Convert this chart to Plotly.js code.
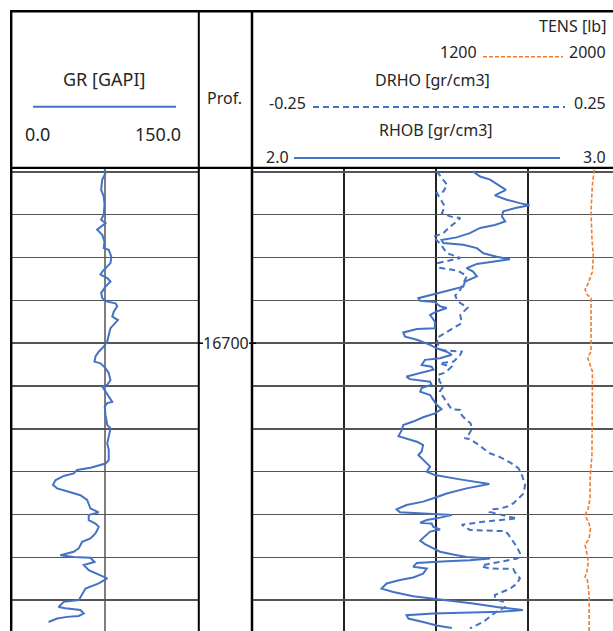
<!DOCTYPE html>
<html>
<head>
<meta charset="utf-8">
<script src="https://cdn.plot.ly/plotly-3.0.1.min.js"></script>
<style>html,body{margin:0;padding:0;background:#fff;overflow:hidden}#chart{width:613px;height:631px}</style>
</head>
<body>
<div id="chart"></div>
<script>
// ---- Data ----
const depthGR = [16659.1,16660.3,16661.8,16664.2,16665.7,16667.7,16670.0,16671.2,16672.0,16673.5,
16674.7,16676.3,16677.8,16678.2,16679.8,16681.3,16683.3,16684.0,16684.8,16685.6,
16686.8,16688.3,16689.5,16690.3,16690.7,16691.4,16692.6,16693.8,16694.6,16695.3,
16696.5,16698.1,16699.6,16700.8,16702.0,16703.1,16704.3,16704.7,16705.8,16707.0,
16708.6,16709.7,16710.1,16711.3,16712.9,16713.7,16714.0,16714.8,16716.8,16719.1,
16719.9,16722.2,16723.4,16724.9,16727.3,16728.1,16729.1,16729.6,16730.4,16731.0,
16732.0,16733.1,16733.9,16734.7,16735.5,16736.6,16738.6,16739.5,16740.1,16741.3,
16742.1,16742.9,16744.4,16745.6,16746.4,16747.9,16748.7,16749.5,16749.9,16750.1,
16751.1,16751.8,16753.0,16754.9,16756.1,16757.3,16758.8,16760.0,16760.4,16761.6,
16761.9,16762.3,16763.1,16763.7,16763.9,16764.3,16765.1];
const gr = [74.6,75.4,72.8,71.9,74.0,74.6,74.0,71.9,75.4,68.7,
72.8,74.6,74.0,78.0,80.0,79.4,72.8,71.4,76.8,79.4,
75.4,71.9,72.8,76.8,83.4,84.8,82.1,80.8,85.3,83.4,
79.4,78.0,76.8,74.0,70.0,67.4,66.6,71.4,75.4,78.0,
79.4,76.8,72.8,75.4,79.4,80.8,76.8,74.8,75.4,76.8,
79.4,78.0,76.8,78.0,78.0,75.4,63.4,52.7,50.0,42.0,
35.3,33.4,36.7,46.0,55.3,60.7,63.4,70.0,62.0,62.0,
67.4,70.0,67.4,63.4,56.7,54.0,50.0,39.3,50.0,63.4,
66.6,58.0,62.0,76.8,70.0,59.4,56.7,54.0,42.0,37.9,
43.3,55.3,58.0,54.0,44.7,36.7,29.9];

const depthRHOB = [16659.9,16661.1,16661.8,16663.0,16664.2,16665.5,16666.5,16667.3,16667.8,16668.4,
16669.2,16670.4,16671.6,16672.4,16673.1,16674.3,16675.3,16675.9,16676.6,16677.0,
16677.8,16679.0,16679.8,16680.4,16680.9,16681.5,16682.5,16683.3,16684.4,16685.6,
16686.8,16687.8,16688.5,16689.5,16690.1,16690.4,16691.4,16691.8,16692.6,16693.4,
16695.0,16696.5,16696.7,16697.5,16698.5,16699.2,16700.4,16701.2,16702.0,16702.7,
16703.5,16703.9,16705.1,16705.5,16706.2,16707.0,16707.8,16708.4,16709.0,16709.7,
16710.5,16711.3,16712.1,16713.3,16714.4,16715.4,16716.4,16717.3,16718.3,16719.1,
16720.3,16721.7,16722.2,16723.0,16723.8,16725.3,16726.1,16727.3,16728.8,16730.0,
16730.8,16731.8,16732.9,16733.9,16735.1,16736.2,16737.0,16737.8,16738.8,16739.5,
16739.7,16740.1,16740.9,16741.3,16741.9,16742.1,16742.9,16743.5,16744.0,16745.2,
16746.1,16746.9,16747.9,16748.7,16749.3,16749.9,16750.3,16750.7,16750.9,16751.1,
16751.3,16752.2,16752.6,16753.8,16754.7,16755.3,16756.1,16757.3,16758.1,16759.1,
16759.6,16760.2,16760.8,16761.6,16762.3,16762.7,16763.0,16763.1,16763.5,16764.3,
16765.1,16765.9,16766.5];
const rhob = [2.600,2.620,2.647,2.669,2.690,2.660,2.692,2.728,2.754,2.719,
2.683,2.679,2.688,2.660,2.620,2.592,2.556,2.515,2.520,2.574,
2.611,2.629,2.665,2.701,2.656,2.611,2.583,2.601,2.611,2.579,
2.574,2.529,2.493,2.452,2.457,2.497,2.511,2.529,2.502,2.484,
2.497,2.497,2.448,2.411,2.416,2.448,2.484,2.502,2.529,2.543,
2.511,2.470,2.461,2.488,2.493,2.457,2.420,2.429,2.484,2.488,
2.461,2.457,2.484,2.493,2.502,2.515,2.497,2.465,2.438,2.411,
2.407,2.398,2.416,2.448,2.465,2.461,2.452,2.465,2.484,2.475,
2.497,2.565,2.645,2.583,2.529,2.493,2.465,2.420,2.393,2.402,
2.457,2.543,2.502,2.475,2.457,2.488,2.493,2.511,2.484,2.470,
2.457,2.470,2.493,2.511,2.543,2.583,2.647,2.592,2.529,2.484,
2.448,2.438,2.475,2.465,2.438,2.402,2.366,2.352,2.384,2.438,
2.488,2.538,2.601,2.665,2.736,2.674,2.574,2.493,2.420,2.425,
2.465,2.502,2.543];

const depthDRHO = [16659.9,16661.4,16663.0,16664.6,16664.9,16666.9,16668.1,16669.6,16670.4,16670.8,
16671.6,16673.1,16674.3,16675.2,16676.3,16677.8,16679.0,16680.1,16681.3,16682.4,
16683.1,16684.3,16685.9,16687.5,16688.9,16690.3,16691.7,16693.4,16695.3,16696.5,
16697.3,16698.8,16700.4,16701.6,16702.0,16702.7,16704.3,16704.7,16705.5,16706.2,
16707.0,16707.4,16709.0,16710.1,16711.3,16712.5,16714.0,16715.4,16715.6,16716.8,
16718.1,16718.7,16719.9,16721.2,16722.2,16722.4,16723.4,16724.5,16725.7,16726.6,
16727.9,16729.2,16730.4,16732.0,16733.1,16735.1,16736.2,16737.4,16738.2,16738.6,
16738.8,16739.4,16740.4,16740.9,16741.7,16742.4,16743.6,16743.8,16743.9,16744.6,
16746.2,16747.6,16749.0,16749.9,16750.3,16751.1,16751.8,16752.1,16752.6,16752.7,
16753.4,16754.9,16756.1,16757.3,16758.1,16758.8,16759.6,16760.4,16761.6,16762.7,
16763.9,16765.1,16766.6];
const drho = [0.001,0.008,0.015,0.010,0.001,0.008,0.012,0.008,0.019,0.033,
0.028,0.017,0.010,-0.004,0.003,0.010,0.015,0.033,0.003,0.005,
0.030,0.042,0.038,0.033,0.026,0.030,0.043,0.033,0.035,0.024,
0.015,0.001,0.003,0.008,0.035,0.033,0.024,0.005,0.021,0.017,
0.010,0.003,0.005,0.010,0.005,0.010,0.015,0.021,0.033,0.035,
0.042,0.047,0.049,0.045,0.039,0.046,0.055,0.064,0.073,0.087,
0.101,0.112,0.116,0.119,0.121,0.119,0.112,0.105,0.096,0.087,
0.076,0.073,0.096,0.110,0.064,0.035,0.046,0.073,0.094,0.098,
0.105,0.110,0.114,0.114,0.110,0.087,0.064,0.062,0.073,0.105,
0.107,0.114,0.110,0.101,0.089,0.080,0.080,0.091,0.094,0.082,
0.073,0.064,0.046];

const depthTENS = [16659.5,16663.0,16669.2,16675.5,16679.8,16683.3,16686.0,16687.5,16688.7,16689.5,
16693.4,16702.0,16702.7,16703.5,16705.1,16706.6,16709.7,16717.5,16722.2,16726.1,
16731.6,16736.2,16738.6,16740.1,16741.7,16743.2,16745.6,16747.1,16749.1,16751.1,
16753.4,16754.6,16754.9,16756.5,16759.6,16767.4];
const tens = [1944,1940,1937,1939,1942,1940,1931,1924,1929,1937,
1937,1937,1933,1930,1935,1940,1940,1939,1940,1939,
1935,1935,1931,1924,1931,1936,1933,1924,1928,1931,
1928,1924,1928,1931,1933,1933];

const depthTickLabels = [16700];
const grScale = ["0.0", "150.0"];
const rhobScale = ["2.0", "3.0"];
const drhoScale = ["-0.25", "0.25"];
const tensScale = ["1200", "2000"];

// ---- Layout helpers (pixel -> paper) ----
const W = 613, H = 631;
const px = x => x / W;
const py = y => 1 - y / H;
const BLUE = '#4472C4', ORANGE = '#ED7D31', TXT = '#262626';
const FONT = 'Noto Sans, DejaVu Sans, sans-serif';

const traces = [
  {x: gr, y: depthGR, xaxis: 'x', yaxis: 'y', mode: 'lines', line: {color: BLUE, width: 2}, hoverinfo: 'skip'},
  {x: rhob, y: depthRHOB, xaxis: 'x2', yaxis: 'y', mode: 'lines', line: {color: BLUE, width: 2}, hoverinfo: 'skip'},
  {x: drho, y: depthDRHO, xaxis: 'x3', yaxis: 'y', mode: 'lines', line: {color: BLUE, width: 2, dash: '6px,4px'}, hoverinfo: 'skip'},
  {x: tens, y: depthTENS, xaxis: 'x4', yaxis: 'y', mode: 'lines', line: {color: ORANGE, width: 1.6, dash: '4px,2px'}, hoverinfo: 'skip'}
];

const yTop = 168;
const t2Left = 252, t1Left = 11.2, t1Right = 198.8;
const t2Frac = (W - t2Left) / 368;

const layout = {
  width: W, height: H,
  margin: {l: 0, r: 0, t: 0, b: 0},
  paper_bgcolor: '#fff', plot_bgcolor: '#fff',
  showlegend: false,
  xaxis: {domain: [px(t1Left), px(t1Right)], range: [0, 150], tickvals: [75], showticklabels: false, ticks: '',
          showgrid: true, gridcolor: '#7f7f7f', gridwidth: 1.5, zeroline: false, showline: false, anchor: 'y', fixedrange: true},
  xaxis2: {domain: [px(t2Left), 1], range: [2, 2 + t2Frac], tickvals: [2.25, 2.5, 2.75], showticklabels: false, ticks: '',
          showgrid: true, gridcolor: '#222', gridwidth: 1.3, zeroline: false, showline: false, anchor: 'y', fixedrange: true},
  xaxis3: {overlaying: 'x2', range: [-0.25, -0.25 + 0.5 * t2Frac], visible: false, anchor: 'y'},
  xaxis4: {overlaying: 'x2', range: [1200, 1200 + 800 * t2Frac], visible: false, anchor: 'y'},
  yaxis: {domain: [0, py(yTop)], range: [16767.2, 16659.1], tick0: 16660, dtick: 10, showticklabels: false, ticks: '',
          showgrid: true, gridcolor: '#555', gridwidth: 1.5, zeroline: false, showline: false, anchor: 'x2', fixedrange: true},
  shapes: [],
  annotations: []
};

function hline(x0, x1, y, color, width, dash) {
  layout.shapes.push({type: 'line', xref: 'paper', yref: 'paper', x0: px(x0), x1: px(x1), y0: py(y), y1: py(y),
    line: {color: color, width: width, dash: dash || 'solid'}});
}
function vline(x, y0, y1, color, width) {
  layout.shapes.push({type: 'line', xref: 'paper', yref: 'paper', x0: px(x), x1: px(x), y0: py(y0), y1: py(y1),
    line: {color: color, width: width}});
}
function label(text, x, y, anchor, size) {
  layout.annotations.push({text: text, xref: 'paper', yref: 'paper', x: px(x), y: py(y), xanchor: anchor, yanchor: 'middle',
    showarrow: false, font: {family: FONT, size: size, color: TXT}});
}

// Frame
hline(10, W, 11.2, '#000', 2.5);
hline(10, W, 167.8, '#000', 2.3);
vline(t1Left, 10, H, '#000', 2.4);
vline(t1Right, 10, H, '#000', 2);
vline(t2Left, 10, H, '#000', 2.5);

// Header: track 1
label('GR [GAPI]', 104.2, 79.5, 'center', 18);
hline(33, 176, 106.7, BLUE, 2);
label(grScale[0], 23, 134, 'left', 18);
label(grScale[1], 183, 134, 'right', 18);
// Depth header
label('Prof.', 224.5, 98, 'center', 16);
// Header: track 2
label('TENS [lb]', 608, 26, 'right', 16);
label(tensScale[0], 479, 51.7, 'right', 16);
hline(483, 563, 56.7, ORANGE, 1.6, '4px,2px');
label(tensScale[1], 608, 51.7, 'right', 16);
label('DRHO [gr/cm3]', 432.5, 80, 'center', 16);
label(drhoScale[0], 308, 103.3, 'right', 16);
hline(313, 565, 107, BLUE, 2, '6px,4px');
label(drhoScale[1], 608, 103.3, 'right', 16);
label('RHOB [gr/cm3]', 436, 130, 'center', 16);
label(rhobScale[0], 291, 156.7, 'right', 16);
hline(294, 560, 158, BLUE, 2);
label(rhobScale[1], 608, 156.7, 'right', 16);

// Depth label(s)
depthTickLabels.forEach(d => {
  layout.annotations.push({text: String(d), xref: 'paper', yref: 'y', x: px(250.5), y: d, xanchor: 'right', yanchor: 'middle',
    showarrow: false, font: {family: FONT, size: 16, color: TXT}});
  layout.shapes.push({type: 'line', xref: 'paper', yref: 'y', x0: px(198), x1: px(203), y0: d, y1: d, line: {color: '#000', width: 1.5}});
  layout.shapes.push({type: 'line', xref: 'paper', yref: 'y', x0: px(249), x1: px(256), y0: d, y1: d, line: {color: '#000', width: 1.5}});
});

Plotly.newPlot('chart', traces, layout, {staticPlot: true, displayModeBar: false});
</script>
</body>
</html>
